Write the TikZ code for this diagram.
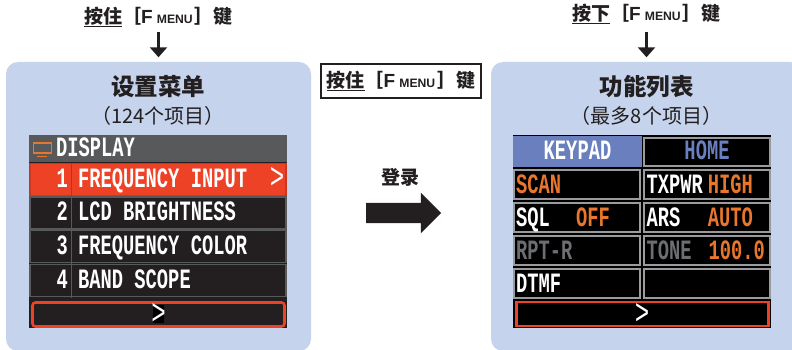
\documentclass[tikz,border=0pt]{standalone}
\usepackage{fontspec}
\setmainfont{Liberation Sans}
\newfontfamily\cjk{Noto Sans CJK SC}
\newfontfamily\lcd[FakeStretch=0.67]{Liberation Mono}
\usetikzlibrary{arrows.meta,shapes.arrows}
\definecolor{panelblue}{HTML}{C5D3EC}
\definecolor{lcdred}{HTML}{EE4227}
\definecolor{lcddark}{HTML}{231F20}
\definecolor{lcdgray}{HTML}{58595B}
\definecolor{lcdblue}{HTML}{6A7FBD}
\definecolor{lcdorange}{HTML}{E8762D}
\definecolor{lcdmute}{HTML}{6D6E71}
\definecolor{cellgray}{HTML}{9B9B9E}
\newcommand{\keyhint}[1]{{\fontsize{19}{20}\cjk\bfseries\underline{#1}［}{\fontsize{19}{20}\bfseries F}\hspace{4pt}{\fontsize{12.2}{20}\bfseries MENU}\hspace{2pt}{\fontsize{19}{20}\cjk\bfseries ］键}}
\tikzset{
  panel/.style={fill=panelblue,rounded corners=12pt,minimum width=305pt,minimum height=289pt},
  hint/.style={inner sep=0pt,text=lcddark,minimum height=22pt},
  downarrow/.style={line width=2.4pt,-{Triangle[width=17pt,length=10pt]},lcddark},
  menurow/.style={draw=lcdgray,line width=1.2pt,fill=lcddark,minimum width=256pt,minimum height=32pt,inner sep=0pt},
  cell/.style={draw=cellgray,line width=1.2pt,fill=black,minimum width=126pt,minimum height=29pt,inner sep=0pt},
  lcdtext/.style={inner sep=0pt,text height=16pt,text depth=0pt,text=white,font=\fontsize{28}{28}\lcd\bfseries},
  chevron/.style={inner sep=0pt,text=white,font=\fontsize{36}{36}\lcd},
  softkey/.style={draw=lcdred,line width=2.6pt,fill=black,minimum height=24pt,inner sep=0pt},
}
\begin{document}
\begin{tikzpicture}[x=1pt,y=-1pt]
\useasboundingbox (0,0) rectangle (792,350);
% blue panels
\node [panel] (menupanel) at (158.5,206.5) {};
\node [panel,minimum width=311pt] (listpanel) at (646.5,206.5) {};
% hints above the panels
\node [hint] (menuhint) at (158.5,17) {\keyhint{按住}};
\node [hint] (listhint) at (646.5,14) {\keyhint{按下}};
\draw [downarrow,shorten <=4pt,shorten >=4.5pt] (menuhint) -- (menupanel);
\draw [downarrow,shorten <=7pt,shorten >=4.5pt] (listhint) -- (listpanel);
% titles
\node [inner sep=0pt,text=lcddark] (menutitle) at (158,87) {\fontsize{23.5}{24}\cjk\bfseries 设置菜单};
\node [inner sep=0pt,text=lcddark] (menusub) at (158,116) {\fontsize{20}{22}\cjk （124个项目）};
\node [inner sep=0pt,text=lcddark] (listtitle) at (646.5,87) {\fontsize{23.5}{24}\cjk\bfseries 功能列表};
\node [inner sep=0pt,text=lcddark] (listsub) at (646.5,116) {\fontsize{20}{22}\cjk （最多8个项目）};
% middle
\node [draw=lcddark,line width=1.2pt,hint,minimum width=160pt,minimum height=34pt] (midhint) at (401,81) {\keyhint{按住}};
\node [inner sep=0pt,text=lcddark] (entrylabel) at (400,177) {\fontsize{19}{20}\cjk\bfseries 登录};
\node [single arrow,fill=lcddark,inner xsep=0pt,inner ysep=10pt,minimum width=40pt,single arrow head extend=10pt,
  single arrow head indent=0pt,minimum height=75pt] (entryarrow) at (398.5,213) {};
% left screen
\node [fill=lcddark,minimum width=258pt,minimum height=193pt,inner sep=0pt] (menuscreen) at (158,231.5) {};
\node [fill=lcdgray,minimum width=258pt,minimum height=27pt,inner sep=0pt] (menuhead) at (158,148.5) {};
\node [draw=lcdorange,line width=1.1pt,minimum width=18pt,minimum height=10pt,inner sep=0pt] (tvicon) at (42.5,148) {};
\draw [lcdorange,line width=1.1pt] (tvicon.south west) ++(4,2.5) -- ++(10,0);
\node [lcdtext,anchor=west] (headtext) at (56,148) {DISPLAY};
\node [menurow,draw=lcdred!85!black,fill=lcdred] (rowa) at (158,179.5) {};
\node [menurow] (rowb) at (158,213) {};
\node [menurow] (rowc) at (158,246.5) {};
\node [menurow] (rowd) at (158,280.5) {};
\draw [lcdgray,line width=0.7pt] (71,163) -- (71,298);
\node [lcdtext,anchor=east] (numa) at (68,179) {1};
\node [lcdtext,anchor=west] (texta) at (78,179) {FREQUENCY INPUT};
\node [lcdtext,anchor=east] (numb) at (68,212) {2};
\node [lcdtext,anchor=west] (textb) at (78,212) {LCD BRIGHTNESS};
\node [lcdtext,anchor=east] (numc) at (68,246) {3};
\node [lcdtext,anchor=west] (textc) at (78,246) {FREQUENCY COLOR};
\node [lcdtext,anchor=east] (numd) at (68,280) {4};
\node [lcdtext,anchor=west] (textd) at (78,280) {BAND SCOPE};
\node [chevron] (chevrona) at (277,178) {>};
\node [softkey,rounded corners=3pt,minimum width=252pt,fill=lcddark] (menunext) at (158.5,314.5) {};
\node [fill=black,minimum width=11pt,minimum height=18pt,inner sep=0pt] (chevronback) at (158.5,314) {};
\node [chevron] (chevronb) at (158.5,314) {>};
% right screen
\node [fill=black,minimum width=258pt,minimum height=193pt,inner sep=0pt] (listscreen) at (642,231.5) {};
\node [fill=lcdblue,minimum width=129pt,minimum height=31pt,inner sep=0pt] (keypad) at (577.5,151.5) {};
\node [cell,minimum height=28pt] (home) at (707,152) {};
\node [cell] (scan) at (577,184.5) {};
\node [cell] (txpwr) at (707,184.5) {};
\node [cell] (sql) at (577,217.5) {};
\node [cell] (ars) at (707,217.5) {};
\node [cell] (rpt) at (577,250.5) {};
\node [cell] (tone) at (707,250.5) {};
\node [cell] (dtmf) at (577,283.5) {};
\node [cell] (blank) at (707,283.5) {};
\node [lcdtext] (keypadtext) at (keypad) {KEYPAD};
\node [lcdtext,text=lcdblue] (hometext) at (home) {HOME};
\node [lcdtext,text=lcdorange,anchor=west] (scantext) at (516,185) {SCAN};
\node [lcdtext,anchor=west] (txpwrtext) at (646.5,185) {TXPWR};
\node [lcdtext,text=lcdorange,anchor=east] (txpwrval) at (753,185) {HIGH};
\node [lcdtext,anchor=west] (sqltext) at (516,218) {SQL};
\node [lcdtext,text=lcdorange,anchor=east] (sqlval) at (610,218) {OFF};
\node [lcdtext,anchor=west] (arstext) at (646.5,218) {ARS};
\node [lcdtext,text=lcdorange,anchor=east] (arsval) at (753,218) {AUTO};
\node [lcdtext,text=lcdmute,anchor=west] (rpttext) at (516,251) {RPT-R};
\node [lcdtext,text=lcdmute,anchor=west] (tonetext) at (646.5,251) {TONE};
\node [lcdtext,text=lcdorange,anchor=east] (toneval) at (765,251) {100.0};
\node [lcdtext,anchor=west] (dtmftext) at (516,284) {DTMF};
\node [softkey,minimum width=252pt] (listnext) at (642.5,314) {};
\node [chevron] (chevronc) at (642,314) {>};
\end{tikzpicture}
\end{document}
